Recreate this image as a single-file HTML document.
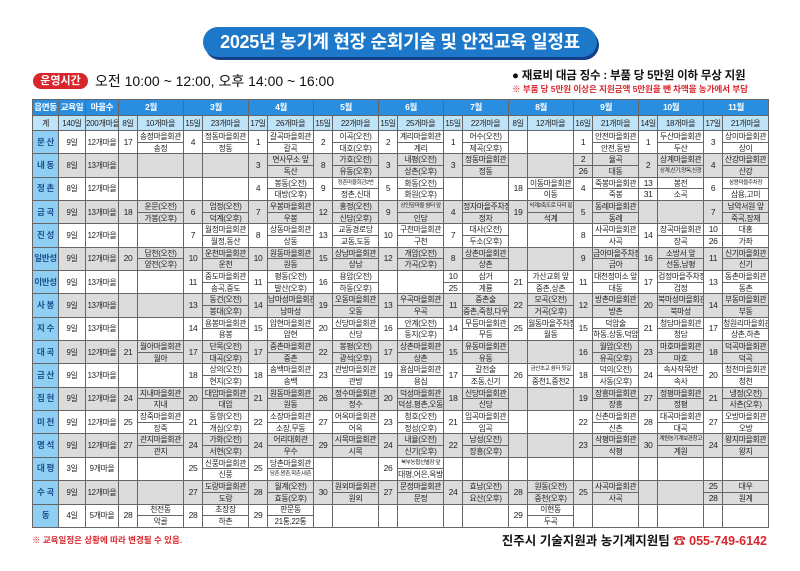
<!DOCTYPE html>
<html><head><meta charset="utf-8">
<style>
*{margin:0;padding:0;box-sizing:border-box}
body{width:800px;height:571px;background:#fff;position:relative;overflow:hidden;font-family:"Liberation Sans","Noto Sans CJK KR",sans-serif;color:#222}
.ban{position:absolute;left:203px;top:27px;width:394px;height:30px;background:#1d78c9;border-radius:15px;box-shadow:2px 3px 0 #14408a;color:#fff;font-weight:bold;font-size:18px;text-align:center;line-height:30px;letter-spacing:-0.3px}
.pill{position:absolute;left:33px;top:73px;width:55px;height:16px;background:#d8262c;border-radius:8px;color:#fff;font-weight:bold;font-size:11px;text-align:center;line-height:16px}
.tm{position:absolute;left:95px;top:72px;font-size:14px;line-height:18px;color:#111}
.r1{position:absolute;left:512px;top:68px;font-size:11.5px;font-weight:bold;color:#111;line-height:16px;letter-spacing:-0.2px}
.r2{position:absolute;left:512px;top:83px;font-size:8.6px;font-weight:bold;color:#d8262c;line-height:12px;letter-spacing:-0.1px}
table{position:absolute;left:32px;top:99px;border-collapse:collapse;table-layout:fixed;width:736px}
td{border:1px solid #666;text-align:center;vertical-align:middle;font-size:7.8px;line-height:9px;white-space:nowrap;overflow:hidden;letter-spacing:-0.3px;padding:0}
tr.h1 td{height:16px;background:#2a8ee0;color:#fff;font-weight:bold;font-size:8.5px}
tr.h2 td{height:15px;background:#bfe3f8;color:#222;font-size:8px}
tr.d td{height:11.68px}
tr.g td{background:#dcdcdc}
td.n{background:#8fcff3!important;color:#1e4d8c;font-weight:bold;font-size:8.5px}
td.dt{font-size:8.5px}
.s{font-size:5.6px;letter-spacing:-0.4px}
.f1{position:absolute;left:32px;top:534px;font-size:8.5px;color:#d8262c;font-weight:bold}
.f2{position:absolute;right:33px;top:530px;font-size:12.5px;font-weight:bold;color:#111}
.f2 span{color:#d8262c}
</style></head><body>
<div class="ban">2025년 농기계 현장 순회기술 및 안전교육 일정표</div>
<div class="pill">운영시간</div>
<div class="tm">오전 10:00 ~ 12:00, 오후 14:00 ~ 16:00</div>
<div class="r1">● 재료비 대금 징수 : 부품 당 5만원 이하 무상 지원</div>
<div class="r2">※ 부품 당 5만원 이상은 지원금액 5만원을 뺀 차액을 농가에서 부담</div>
<table>
<colgroup><col style="width:26px"><col style="width:27px"><col style="width:33px">
<col style="width:19px"><col style="width:46px"><col style="width:19px"><col style="width:46px"><col style="width:19px"><col style="width:46px"><col style="width:19px"><col style="width:46px"><col style="width:19px"><col style="width:46px"><col style="width:19px"><col style="width:46px"><col style="width:19px"><col style="width:46px"><col style="width:19px"><col style="width:46px"><col style="width:19px"><col style="width:46px"><col style="width:19px"><col style="width:46px"></colgroup>
<tr class="h1"><td>읍면동</td><td>교육일</td><td>마을수</td><td colspan="2">2월</td><td colspan="2">3월</td><td colspan="2">4월</td><td colspan="2">5월</td><td colspan="2">6월</td><td colspan="2">7월</td><td colspan="2">8월</td><td colspan="2">9월</td><td colspan="2">10월</td><td colspan="2">11월</td></tr>
<tr class="h2"><td>계</td><td>140일</td><td>200개마을</td><td>8일</td><td>10개마을</td><td>15일</td><td>23개마을</td><td>17일</td><td>26개마을</td><td>15일</td><td>22개마을</td><td>15일</td><td>25개마을</td><td>15일</td><td>22개마을</td><td>8일</td><td>12개마을</td><td>16일</td><td>21개마을</td><td>14일</td><td>18개마을</td><td>17일</td><td>21개마을</td></tr>

<tr class="d"><td rowspan="2" class="n">문 산</td><td rowspan="2">9일</td><td rowspan="2">12개마을</td><td rowspan="2" class="dt">17</td><td>송정마을회관</td><td rowspan="2" class="dt">4</td><td>정동마을회관</td><td rowspan="2" class="dt">1</td><td>갈곡마을회관</td><td rowspan="2" class="dt">2</td><td>이곡(오전)</td><td rowspan="2" class="dt">2</td><td>계리마을회관</td><td rowspan="2" class="dt">1</td><td>어수(오전)</td><td rowspan="2"></td><td rowspan="2"></td><td rowspan="2" class="dt">1</td><td>안전마을회관</td><td rowspan="2" class="dt">1</td><td>두산마을회관</td><td rowspan="2" class="dt">3</td><td>상이마을회관</td></tr>
<tr class="d"><td>송정</td><td>정동</td><td>갈곡</td><td>대호(오후)</td><td>계리</td><td>제곡(오후)</td><td>안전,동방</td><td>두산</td><td>상이</td></tr>

<tr class="d g"><td rowspan="2" class="n">내 동</td><td rowspan="2">8일</td><td rowspan="2">13개마을</td><td rowspan="2"></td><td rowspan="2"></td><td rowspan="2"></td><td rowspan="2"></td><td rowspan="2" class="dt">3</td><td>면사무소 앞</td><td rowspan="2" class="dt">8</td><td>가호(오전)</td><td rowspan="2" class="dt">3</td><td>내평(오전)</td><td rowspan="2" class="dt">3</td><td>정동마을회관</td><td rowspan="2"></td><td rowspan="2"></td><td class="dt">2</td><td>율곡</td><td rowspan="2" class="dt">2</td><td>상계마을회관</td><td rowspan="2" class="dt">4</td><td>산강마을회관</td></tr>
<tr class="d g"><td>독산</td><td>유동(오후)</td><td>상촌(오후)</td><td>정동</td><td class="dt">26</td><td>대동</td><td class="s">상계,신기,양옥,신광</td><td>산강</td></tr>

<tr class="d"><td rowspan="2" class="n">정 촌</td><td rowspan="2">8일</td><td rowspan="2">12개마을</td><td rowspan="2"></td><td rowspan="2"></td><td rowspan="2"></td><td rowspan="2"></td><td rowspan="2" class="dt">4</td><td>봉동(오전)</td><td rowspan="2" class="dt">9</td><td class="s">정촌마을회관2번</td><td rowspan="2" class="dt">5</td><td>화동(오전)</td><td rowspan="2"></td><td rowspan="2"></td><td rowspan="2" class="dt">18</td><td>이동마을회관</td><td rowspan="2" class="dt">4</td><td>죽봉마을회관</td><td class="dt">13</td><td>봉전</td><td rowspan="2" class="dt">6</td><td class="s">삼용마을주차장</td></tr>
<tr class="d"><td>대방(오후)</td><td>정촌,신대</td><td>화원(오후)</td><td>이동</td><td>죽봉</td><td class="dt">31</td><td>소곡</td><td>삼용,고미</td></tr>

<tr class="d g"><td rowspan="2" class="n">금 곡</td><td rowspan="2">9일</td><td rowspan="2">13개마을</td><td rowspan="2" class="dt">18</td><td>운문(오전)</td><td rowspan="2" class="dt">6</td><td>엄정(오전)</td><td rowspan="2" class="dt">7</td><td>우봉마을회관</td><td rowspan="2" class="dt">12</td><td>홍정(오전)</td><td rowspan="2" class="dt">9</td><td class="s">상인담마을 쉼터 앞</td><td rowspan="2" class="dt">4</td><td>정자마을주차장</td><td rowspan="2" class="dt">19</td><td class="s">석계2축도로 다리 밑</td><td rowspan="2" class="dt">5</td><td>동례마을회관</td><td rowspan="2"></td><td rowspan="2"></td><td rowspan="2" class="dt">7</td><td>남악서원 앞</td></tr>
<tr class="d g"><td>가봉(오후)</td><td>덕계(오후)</td><td>우봉</td><td>신담(오후)</td><td>인담</td><td>정자</td><td>석계</td><td>동례</td><td>죽곡,장재</td></tr>

<tr class="d"><td rowspan="2" class="n">진 성</td><td rowspan="2">9일</td><td rowspan="2">12개마을</td><td rowspan="2"></td><td rowspan="2"></td><td rowspan="2" class="dt">7</td><td>월정마을회관</td><td rowspan="2" class="dt">8</td><td>상동마을회관</td><td rowspan="2" class="dt">13</td><td>교동경로당</td><td rowspan="2" class="dt">10</td><td>구천마을회관</td><td rowspan="2" class="dt">7</td><td>대사(오전)</td><td rowspan="2"></td><td rowspan="2"></td><td rowspan="2" class="dt">8</td><td>사곡마을회관</td><td rowspan="2" class="dt">14</td><td>장곡마을회관</td><td class="dt">10</td><td>대홍</td></tr>
<tr class="d"><td>월정,동산</td><td>상동</td><td>교동,도동</td><td>구천</td><td>두소(오후)</td><td>사곡</td><td>장곡</td><td class="dt">26</td><td>가좌</td></tr>

<tr class="d g"><td rowspan="2" class="n">일반성</td><td rowspan="2">9일</td><td rowspan="2">12개마을</td><td rowspan="2" class="dt">20</td><td>답천(오전)</td><td rowspan="2" class="dt">10</td><td>운천마을회관</td><td rowspan="2" class="dt">10</td><td>원동마을회관</td><td rowspan="2" class="dt">15</td><td>상남마을회관</td><td rowspan="2" class="dt">12</td><td>개암(오전)</td><td rowspan="2" class="dt">8</td><td>상촌마을회관</td><td rowspan="2"></td><td rowspan="2"></td><td rowspan="2" class="dt">9</td><td>금아마을주차장</td><td rowspan="2" class="dt">16</td><td>소방서 앞</td><td rowspan="2" class="dt">11</td><td>신기마을회관</td></tr>
<tr class="d g"><td>양전(오후)</td><td>운천</td><td>원동</td><td>상남</td><td>가곡(오후)</td><td>상촌</td><td>금아</td><td>선동,남평</td><td>신기</td></tr>

<tr class="d"><td rowspan="2" class="n">이반성</td><td rowspan="2">9일</td><td rowspan="2">13개마을</td><td rowspan="2"></td><td rowspan="2"></td><td rowspan="2" class="dt">11</td><td>중도마을회관</td><td rowspan="2" class="dt">11</td><td>평동(오전)</td><td rowspan="2" class="dt">16</td><td>용암(오전)</td><td rowspan="2"></td><td rowspan="2"></td><td class="dt">10</td><td>삼거</td><td rowspan="2" class="dt">21</td><td>가산교회 앞</td><td rowspan="2" class="dt">11</td><td>대천정미소 앞</td><td rowspan="2" class="dt">17</td><td>검정마을주차장</td><td rowspan="2" class="dt">13</td><td>동촌마을회관</td></tr>
<tr class="d"><td>송곡,중도</td><td>발산(오후)</td><td>하동(오후)</td><td class="dt">25</td><td>계룡</td><td>중촌,상촌</td><td>대동</td><td>검정</td><td>동촌</td></tr>

<tr class="d g"><td rowspan="2" class="n">사 봉</td><td rowspan="2">9일</td><td rowspan="2">13개마을</td><td rowspan="2"></td><td rowspan="2"></td><td rowspan="2" class="dt">13</td><td>동건(오전)</td><td rowspan="2" class="dt">14</td><td>남마성마을회관</td><td rowspan="2" class="dt">19</td><td>오동마을회관</td><td rowspan="2" class="dt">13</td><td>우곡마을회관</td><td rowspan="2" class="dt">11</td><td>중촌술</td><td rowspan="2" class="dt">22</td><td>모곡(오전)</td><td rowspan="2" class="dt">12</td><td>방촌마을회관</td><td rowspan="2" class="dt">20</td><td>북마성마을회관</td><td rowspan="2" class="dt">14</td><td>부동마을회관</td></tr>
<tr class="d g"><td>봉대(오후)</td><td>남마성</td><td>오동</td><td>우곡</td><td>중촌,죽청,다우</td><td>거곡(오후)</td><td>방촌</td><td>북마성</td><td>부동</td></tr>

<tr class="d"><td rowspan="2" class="n">지 수</td><td rowspan="2">9일</td><td rowspan="2">13개마을</td><td rowspan="2"></td><td rowspan="2"></td><td rowspan="2" class="dt">14</td><td>용봉마을회관</td><td rowspan="2" class="dt">15</td><td>압현마을회관</td><td rowspan="2" class="dt">20</td><td>신당마을회관</td><td rowspan="2" class="dt">16</td><td>안계(오전)</td><td rowspan="2" class="dt">14</td><td>무등마을회관</td><td rowspan="2" class="dt">25</td><td>월동마을주차장</td><td rowspan="2" class="dt">15</td><td>덕암술</td><td rowspan="2" class="dt">21</td><td>청담마을회관</td><td rowspan="2" class="dt">17</td><td>청원리마을회관</td></tr>
<tr class="d"><td>용봉</td><td>압현</td><td>신당</td><td>동지(오후)</td><td>무등</td><td>월동</td><td>하동,상동,덕암</td><td>청담</td><td>상촌,하촌</td></tr>

<tr class="d g"><td rowspan="2" class="n">대 곡</td><td rowspan="2">9일</td><td rowspan="2">12개마을</td><td rowspan="2" class="dt">21</td><td>월아마을회관</td><td rowspan="2" class="dt">17</td><td>단목(오전)</td><td rowspan="2" class="dt">17</td><td>중촌마을회관</td><td rowspan="2" class="dt">22</td><td>봉평(오전)</td><td rowspan="2" class="dt">17</td><td>상촌마을회관</td><td rowspan="2" class="dt">15</td><td>유동마을회관</td><td rowspan="2"></td><td rowspan="2"></td><td rowspan="2" class="dt">16</td><td>월암(오전)</td><td rowspan="2" class="dt">23</td><td>마호마을회관</td><td rowspan="2" class="dt">18</td><td>덕곡마을회관</td></tr>
<tr class="d g"><td>월아</td><td>대곡(오후)</td><td>중촌</td><td>광석(오후)</td><td>상촌</td><td>유동</td><td>유곡(오후)</td><td>마호</td><td>덕곡</td></tr>

<tr class="d"><td rowspan="2" class="n">금 산</td><td rowspan="2">9일</td><td rowspan="2">13개마을</td><td rowspan="2"></td><td rowspan="2"></td><td rowspan="2" class="dt">18</td><td>상의(오전)</td><td rowspan="2" class="dt">18</td><td>송백마을회관</td><td rowspan="2" class="dt">23</td><td>관방마을회관</td><td rowspan="2" class="dt">19</td><td>용심마을회관</td><td rowspan="2" class="dt">17</td><td>갈전술</td><td rowspan="2" class="dt">26</td><td class="s">금산초교 쉼터 뒷길</td><td rowspan="2" class="dt">18</td><td>덕의(오전)</td><td rowspan="2" class="dt">24</td><td>속사작목반</td><td rowspan="2" class="dt">20</td><td>청천마을회관</td></tr>
<tr class="d"><td>현지(오후)</td><td>송백</td><td>관방</td><td>용심</td><td>조동,신기</td><td>중천1,중천2</td><td>사동(오후)</td><td>속사</td><td>청천</td></tr>

<tr class="d g"><td rowspan="2" class="n">집 현</td><td rowspan="2">9일</td><td rowspan="2">12개마을</td><td rowspan="2" class="dt">24</td><td>지내마을회관</td><td rowspan="2" class="dt">20</td><td>대암마을회관</td><td rowspan="2" class="dt">21</td><td>원동마을회관</td><td rowspan="2" class="dt">26</td><td>정수마을회관</td><td rowspan="2" class="dt">20</td><td>덕성마을회관</td><td rowspan="2" class="dt">18</td><td>신당마을회관</td><td rowspan="2"></td><td rowspan="2"></td><td rowspan="2" class="dt">19</td><td>장흥마을회관</td><td rowspan="2" class="dt">27</td><td>정평마을회관</td><td rowspan="2" class="dt">21</td><td>냉정(오전)</td></tr>
<tr class="d g"><td>지내</td><td>대암</td><td>원동</td><td>정수</td><td>덕성,평촌,오동</td><td>신당</td><td>장흥</td><td>정평</td><td>사촌(오후)</td></tr>

<tr class="d"><td rowspan="2" class="n">미 천</td><td rowspan="2">9일</td><td rowspan="2">12개마을</td><td rowspan="2" class="dt">25</td><td>장죽마을회관</td><td rowspan="2" class="dt">21</td><td>동향(오전)</td><td rowspan="2" class="dt">22</td><td>소장마을회관</td><td rowspan="2" class="dt">27</td><td>어옥마을회관</td><td rowspan="2" class="dt">23</td><td>청호(오전)</td><td rowspan="2" class="dt">21</td><td>임곡마을회관</td><td rowspan="2"></td><td rowspan="2"></td><td rowspan="2" class="dt">22</td><td>신촌마을회관</td><td rowspan="2" class="dt">28</td><td>대곡마을회관</td><td rowspan="2" class="dt">27</td><td>오방마을회관</td></tr>
<tr class="d"><td>장죽</td><td>개심(오후)</td><td>소장,무동</td><td>어옥</td><td>정성(오후)</td><td>임곡</td><td>신촌</td><td>대곡</td><td>오방</td></tr>

<tr class="d g"><td rowspan="2" class="n">명 석</td><td rowspan="2">9일</td><td rowspan="2">12개마을</td><td rowspan="2" class="dt">27</td><td>관지마을회관</td><td rowspan="2" class="dt">24</td><td>가화(오전)</td><td rowspan="2" class="dt">24</td><td>어리대회관</td><td rowspan="2" class="dt">29</td><td>시목마을회관</td><td rowspan="2" class="dt">24</td><td>내율(오전)</td><td rowspan="2" class="dt">22</td><td>남성(오전)</td><td rowspan="2"></td><td rowspan="2"></td><td rowspan="2" class="dt">23</td><td>삭평마을회관</td><td rowspan="2" class="dt">30</td><td class="s">계원농기계보관창고</td><td rowspan="2" class="dt">24</td><td>왕지마을회관</td></tr>
<tr class="d g"><td>관지</td><td>서현(오후)</td><td>우수</td><td>시목</td><td>신기(오후)</td><td>장흥(오후)</td><td>삭평</td><td>계원</td><td>왕지</td></tr>

<tr class="d"><td rowspan="2" class="n">대 평</td><td rowspan="2">3일</td><td rowspan="2">9개마을</td><td rowspan="2"></td><td rowspan="2"></td><td rowspan="2" class="dt">25</td><td>신풍마을회관</td><td rowspan="2" class="dt">25</td><td>당촌마을회관</td><td rowspan="2"></td><td rowspan="2"></td><td rowspan="2" class="dt">26</td><td class="s">북부농협선별장 앞</td><td rowspan="2"></td><td rowspan="2"></td><td rowspan="2"></td><td rowspan="2"></td><td rowspan="2"></td><td rowspan="2"></td><td rowspan="2"></td><td rowspan="2"></td><td rowspan="2"></td><td rowspan="2"></td></tr>
<tr class="d"><td>신풍</td><td class="s">당촌,왕촌,학촌,내촌</td><td>대평,어은,옥방</td></tr>

<tr class="d g"><td rowspan="2" class="n">수 곡</td><td rowspan="2">9일</td><td rowspan="2">12개마을</td><td rowspan="2"></td><td rowspan="2"></td><td rowspan="2" class="dt">27</td><td>도랑마을회관</td><td rowspan="2" class="dt">28</td><td>월계(오전)</td><td rowspan="2" class="dt">30</td><td>원외마을회관</td><td rowspan="2" class="dt">27</td><td>문정마을회관</td><td rowspan="2" class="dt">24</td><td>효남(오전)</td><td rowspan="2" class="dt">28</td><td>원동(오전)</td><td rowspan="2" class="dt">25</td><td>사곡마을회관</td><td rowspan="2"></td><td rowspan="2"></td><td class="dt">25</td><td>대우</td></tr>
<tr class="d g"><td>도랑</td><td>효동(오후)</td><td>원외</td><td>문정</td><td>요산(오후)</td><td>중천(오후)</td><td>사곡</td><td class="dt">28</td><td>원계</td></tr>

<tr class="d"><td rowspan="2" class="n">동</td><td rowspan="2">4일</td><td rowspan="2">5개마을</td><td rowspan="2" class="dt">28</td><td>천전동</td><td rowspan="2" class="dt">28</td><td>초장장</td><td rowspan="2" class="dt">29</td><td>판문동</td><td rowspan="2"></td><td rowspan="2"></td><td rowspan="2"></td><td rowspan="2"></td><td rowspan="2"></td><td rowspan="2"></td><td rowspan="2" class="dt">29</td><td>이현동</td><td rowspan="2"></td><td rowspan="2"></td><td rowspan="2"></td><td rowspan="2"></td><td rowspan="2"></td><td rowspan="2"></td></tr>
<tr class="d"><td>악골</td><td>하촌</td><td>21통,22통</td><td>두곡</td></tr>
</table>
<div class="f1">※ 교육일정은 상황에 따라 변경될 수 있음.</div>
<div class="f2">진주시 기술지원과 농기계지원팀 <span>☎ 055-749-6142</span></div>
</body></html>
